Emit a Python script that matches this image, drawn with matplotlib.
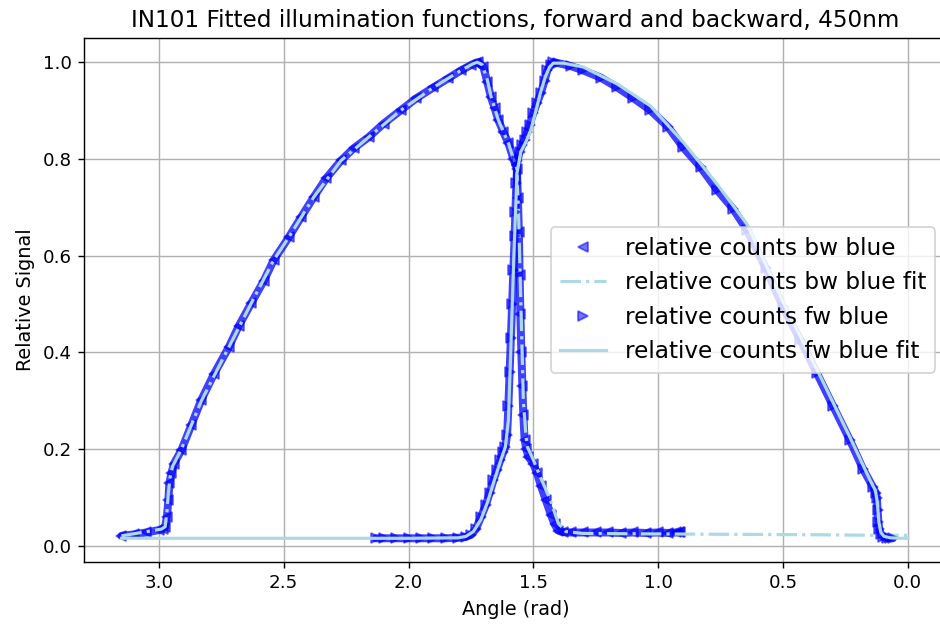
#!/usr/bin/env python
# Fitted illumination functions, forward and backward scan, 450nm

import numpy as np
import matplotlib
matplotlib.use("Agg")
import matplotlib.pyplot as plt

# backward scan, measured
bw_angle = [3.15, 3.10, 3.05, 3.00, 2.985, 2.975, 2.968, 2.962, 2.958, 2.95, 2.94,
            2.91, 2.87, 2.83, 2.78, 2.72, 2.68, 2.63, 2.58, 2.54, 2.48, 2.43,
            2.38, 2.33, 2.27, 2.22, 2.16, 2.10, 2.03, 1.97, 1.90, 1.84, 1.79,
            1.75, 1.73, 1.72, 1.70, 1.685, 1.67, 1.655, 1.64, 1.62, 1.60, 1.58,
            1.566, 1.562, 1.558, 1.555, 1.552, 1.548, 1.544, 1.54, 1.535, 1.528,
            1.52, 1.50, 1.485, 1.47, 1.45, 1.43, 1.415, 1.40, 1.38, 1.35, 1.30,
            1.25, 1.20, 1.15, 1.10, 1.05, 1.00, 0.96, 0.93, 0.915, 0.912]
bw_signal = [0.021, 0.024, 0.028, 0.033, 0.036, 0.040, 0.060, 0.095, 0.130, 0.150, 0.170,
             0.198, 0.250, 0.302, 0.355, 0.411, 0.455, 0.502, 0.548, 0.591, 0.638, 0.680,
             0.721, 0.760, 0.797, 0.822, 0.845, 0.873, 0.901, 0.925, 0.948, 0.967, 0.983,
             0.994, 0.999, 1.000, 0.990, 0.960, 0.928, 0.905, 0.880, 0.855, 0.833, 0.800,
             0.780, 0.720, 0.650, 0.560, 0.480, 0.400, 0.330, 0.270, 0.220, 0.200,
             0.185, 0.170, 0.150, 0.125, 0.095, 0.065, 0.045, 0.032, 0.029, 0.028, 0.028,
             0.028, 0.028, 0.027, 0.028, 0.027, 0.028, 0.027, 0.028, 0.028, 0.028]

# backward scan, fit
bwfit_angle = [3.15, 3.07, 2.99, 2.975, 2.968, 2.962, 2.956, 2.945, 2.91, 2.83, 2.72,
               2.63, 2.54, 2.48, 2.38, 2.27, 2.16, 2.03, 1.90, 1.79, 1.745, 1.725,
               1.705, 1.685, 1.67, 1.64, 1.60, 1.58, 1.566, 1.56, 1.552, 1.546, 1.54,
               1.53, 1.524, 1.50, 1.472, 1.432, 1.40, 1.37, 1.30, 1.0, 0.6, 0.3, 0.1, 0.0]
bwfit_signal = [0.021, 0.028, 0.035, 0.040, 0.070, 0.110, 0.140, 0.165, 0.200, 0.300, 0.411,
                0.502, 0.591, 0.638, 0.721, 0.797, 0.845, 0.901, 0.948, 0.983, 0.996, 1.000,
                0.995, 0.965, 0.930, 0.880, 0.833, 0.800, 0.780, 0.700, 0.540, 0.420, 0.300,
                0.230, 0.205, 0.178, 0.143, 0.095, 0.047, 0.030, 0.026, 0.025, 0.024, 0.023, 0.022, 0.022]

# forward scan, measured
fw_angle = [2.132, 2.10, 2.05, 2.00, 1.95, 1.90, 1.85, 1.80, 1.77, 1.75, 1.73, 1.71,
            1.69, 1.675, 1.66, 1.645, 1.632, 1.62, 1.612, 1.605, 1.60, 1.595, 1.59,
            1.585, 1.58, 1.575, 1.572, 1.568, 1.564, 1.555, 1.545, 1.535, 1.525,
            1.515, 1.50, 1.485, 1.47, 1.455, 1.444, 1.43, 1.42, 1.40, 1.35, 1.30,
            1.23, 1.164, 1.10, 1.032, 0.96, 0.90, 0.83, 0.764, 0.70, 0.644, 0.57,
            0.50, 0.43, 0.364, 0.30, 0.232, 0.18, 0.14, 0.128, 0.124, 0.121, 0.118,
            0.114, 0.108, 0.10, 0.085, 0.07, 0.06]
fw_signal = [0.016, 0.016, 0.016, 0.016, 0.016, 0.016, 0.016, 0.017, 0.019, 0.023, 0.035, 0.060,
             0.085, 0.110, 0.136, 0.158, 0.178, 0.195, 0.205, 0.230, 0.290, 0.360, 0.430,
             0.500, 0.570, 0.640, 0.690, 0.750, 0.795, 0.815, 0.828, 0.840, 0.855,
             0.870, 0.895, 0.916, 0.936, 0.962, 0.983, 0.995, 1.000, 0.998, 0.992, 0.983,
             0.968, 0.948, 0.926, 0.901, 0.866, 0.824, 0.783, 0.736, 0.697, 0.653, 0.575,
             0.494, 0.425, 0.357, 0.290, 0.219, 0.160, 0.122, 0.110, 0.100, 0.075, 0.050,
             0.035, 0.025, 0.019, 0.017, 0.016, 0.016]

# forward scan, fit
fwfit_angle = [3.15, 2.8, 2.4, 2.0, 1.80, 1.77, 1.74, 1.71, 1.684, 1.66, 1.632, 1.612,
               1.60, 1.592, 1.584, 1.578, 1.572, 1.566, 1.55, 1.53, 1.51, 1.492, 1.472,
               1.452, 1.435, 1.42, 1.38, 1.30, 1.164, 1.032, 0.90, 0.764, 0.644, 0.50,
               0.364, 0.232, 0.15, 0.13, 0.122, 0.116, 0.108, 0.095, 0.07, 0.03, 0.0]
fwfit_signal = [0.016, 0.016, 0.016, 0.016, 0.017, 0.020, 0.030, 0.055, 0.090, 0.130, 0.175, 0.205,
                0.260, 0.380, 0.508, 0.600, 0.680, 0.770, 0.815, 0.835, 0.860, 0.895, 0.936,
                0.970, 0.990, 0.998, 0.998, 0.990, 0.955, 0.910, 0.835, 0.748, 0.665, 0.505,
                0.365, 0.225, 0.135, 0.115, 0.090, 0.050, 0.028, 0.020, 0.017, 0.016, 0.016]

fig = plt.figure(figsize=(940 / 128, 626 / 128), dpi=128)
ax = fig.add_axes([84 / 940, 64 / 626, 863 / 940, 524 / 626])

# dense measurement band underneath the markers
ax.plot(bw_angle, bw_signal, color="blue", lw=4.5, alpha=0.75, solid_capstyle="round")
ax.plot(fw_angle, fw_signal, color="blue", lw=4.5, alpha=0.75, solid_capstyle="round")

ax.plot(bw_angle, bw_signal, "<", color="blue", alpha=0.55, ms=5.5,
        label="relative counts bw blue")
ax.plot(bwfit_angle, bwfit_signal, "-.", color="lightblue", lw=1.8,
        label="relative counts bw blue fit")
ax.plot(fw_angle, fw_signal, ">", color="blue", alpha=0.55, ms=5.5,
        label="relative counts fw blue")
ax.plot(fwfit_angle, fwfit_signal, "-", color="lightblue", lw=1.8,
        label="relative counts fw blue fit")

ax.set_xlim(3.30, -0.157)
ax.set_ylim(-0.033, 1.05)
ax.set_xticks([3.0, 2.5, 2.0, 1.5, 1.0, 0.5, 0.0])
ax.set_yticks([0.0, 0.2, 0.4, 0.6, 0.8, 1.0])
ax.tick_params(labelsize=10.3)
ax.grid(True)

ax.set_title("IN101 Fitted illumination functions, forward and backward, 450nm", fontsize=13)
ax.set_xlabel("Angle (rad)", fontsize=10.8)
ax.set_ylabel("Relative Signal", fontsize=10.8)

leg = ax.legend(loc="center right", fontsize=13, markerscale=1.1)
for h in leg.legend_handles:
  if h.get_marker() in ("<", ">"):
    h.set_alpha(0.55)

fig.savefig("out.png", dpi=128)
